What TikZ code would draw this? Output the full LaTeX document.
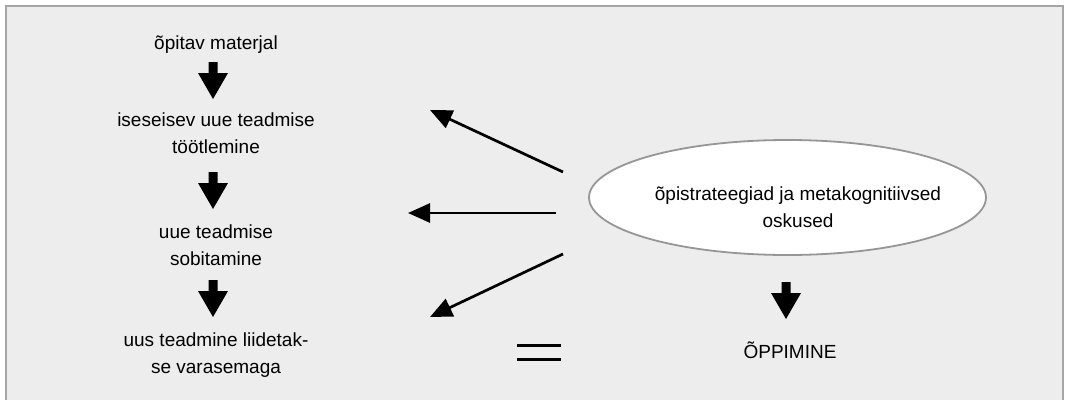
\documentclass[tikz,border=0pt]{standalone}
\usepackage{fontspec}
\setmainfont{Liberation Sans}
\usetikzlibrary{shapes.geometric,arrows.meta}
\definecolor{bg}{RGB}{236,237,236}
\definecolor{framec}{RGB}{165,165,165}
\definecolor{ellc}{RGB}{150,150,150}
\tikzset{
  txt/.style={align=center, font=\fontsize{19}{27}\selectfont, inner sep=0pt},
  thinarrow/.style={line width=2.7pt, -{Triangle[length=22pt,width=19pt]}},
  downarr/.pic={\fill[black] (-4.5,0) -- (4.5,0) -- (4.5,11) -- (15,11) -- (0,37) -- (-15,11) -- (-4.5,11) -- cycle;},
  eqline/.style={line width=3pt}
}
\begin{document}
\begin{tikzpicture}[x=1pt,y=-1pt]
\useasboundingbox (0,0) rectangle (1065,399);
\fill[bg] (6,6) rectangle (1063,400);
\draw[framec, line width=2pt] (6,400) -- (6,6) -- (1063,6) -- (1063,400);

\node[txt] (n1) at (216,45) {õpitav materjal};
\node[txt] (n2) at (216,133) {iseseisev uue teadmise\\töötlemine};
\node[txt] (n3) at (216,245) {uue teadmise\\sobitamine};
\node[txt] (n4) at (216,355) {uus teadmine liidetak-\\se varasemaga};

\pic at (213,62) {downarr};
\pic at (213,172) {downarr};
\pic at (213,280) {downarr};

\node[ellipse, draw=ellc, line width=1.8pt, fill=white, minimum width=397pt, minimum height=115pt, inner sep=0pt] (ell) at (787.5,197.5) {};
\node[txt] (elltext) at (798,207) {õpistrateegiad ja metakognitiivsed\\oskused};

\pic at (786,282) {downarr};
\node[txt] (learn) at (790,350) {ÕPPIMINE};

\coordinate (s1) at (563,172);
\coordinate (e1) at (430,110);
\coordinate (s2) at (556,213);
\coordinate (e2) at (408,213);
\coordinate (s3) at (563,254);
\coordinate (e3) at (430,317);
\draw[thinarrow] (s1) -- (e1);
\draw[thinarrow] (s2) -- (e2);
\draw[thinarrow] (s3) -- (e3);

\coordinate (q1a) at (517,345.7);
\coordinate (q1b) at (561,345.7);
\coordinate (q2a) at (517,359.7);
\coordinate (q2b) at (561,359.7);
\draw[eqline] (q1a) -- (q1b);
\draw[eqline] (q2a) -- (q2b);
\end{tikzpicture}
\end{document}
